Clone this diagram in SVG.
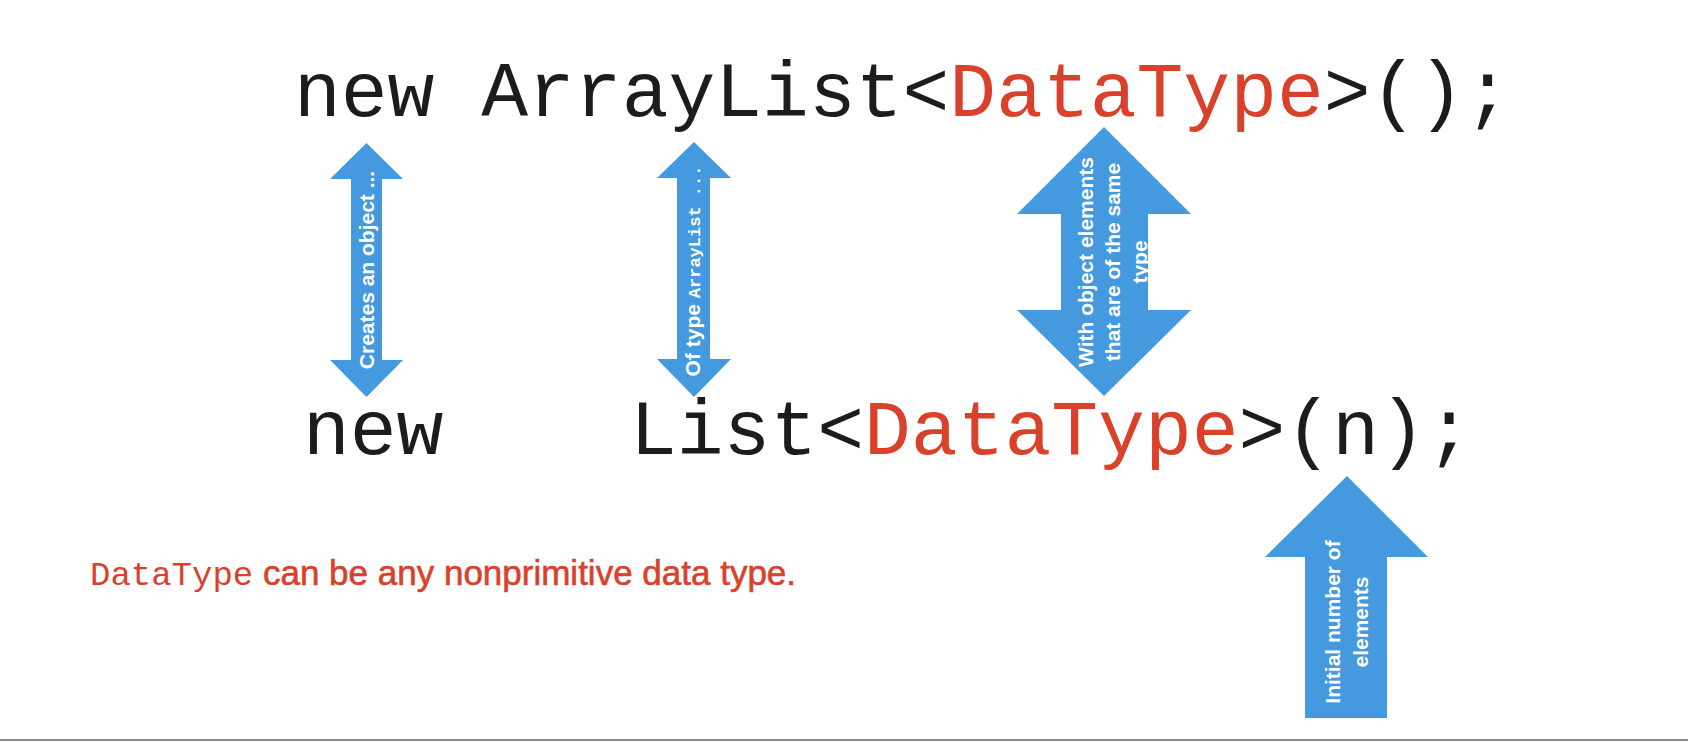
<svg xmlns="http://www.w3.org/2000/svg" width="1688" height="742" viewBox="0 0 1688 742">
<style>
.code{font-family:"Liberation Mono","Courier New",monospace;font-size:78px;fill:#1c1c1c}
.red{fill:#d9412b}
.arrow{fill:#4599df}
.lbl{font-family:"Liberation Sans",Arial,sans-serif;font-weight:bold;font-size:21px;fill:#ffffff;text-anchor:middle}
.mono{font-family:"Liberation Mono","Courier New",monospace;font-weight:bold;font-size:17px}
.note{font-family:"Liberation Sans",Arial,sans-serif;font-size:35px;fill:#d9412b}
.noteb{stroke:#d9412b;stroke-width:0.6px}
</style>
<rect x="0" y="0" width="1688" height="742" fill="#ffffff"/>
<g id="line-top">
<text class="code" x="294" y="116">new ArrayList&lt;<tspan class="red">DataType</tspan>&gt;();</text>
</g>
<g id="line-bottom">
<text class="code" x="303" y="454">new</text>
<text class="code" x="630" y="454">List&lt;<tspan class="red">DataType</tspan>&gt;(n);</text>
</g>
<g id="connectors">
<g id="arrow-creates">
<path class="arrow" d="M366.5,143 L403,179 L382,179 L382,360 L403,360 L366.5,397 L330,360 L351,360 L351,179 L330,179 Z"/>
<text class="lbl" transform="translate(374,270) rotate(-90)">Creates an object ...</text>
</g>
<g id="arrow-type">
<path class="arrow" d="M694,142 L731,178 L710,178 L710,359 L731,359 L694,397 L657,359 L677,359 L677,178 L657,178 Z"/>
<text class="lbl" transform="translate(700,271) rotate(-90)">Of type <tspan class="mono">ArrayList ...</tspan></text>
</g>
<g id="arrow-elements">
<path class="arrow" d="M1104,127 L1191,214 L1148,214 L1148,310 L1191,310 L1104,396 L1017,310 L1061,310 L1061,214 L1017,214 Z"/>
<text class="lbl" transform="translate(1093,262) rotate(-90)"><tspan x="0" y="0">With object elements</tspan><tspan x="0" y="27">that are of the same</tspan><tspan x="0" y="54">type</tspan></text>
</g>
<g id="arrow-initial">
<path class="arrow" d="M1347,476 L1428,557 L1387,557 L1387,718 L1305,718 L1305,557 L1265,557 Z"/>
<text class="lbl" transform="translate(1340,622) rotate(-90)"><tspan x="0" y="0">Initial number of</tspan><tspan x="0" y="28">elements</tspan></text>
</g>
</g>
<g id="note">
<text class="note" x="90" y="585"><tspan style="font-family:'Liberation Mono','Courier New',monospace;font-size:34px">DataType</tspan><tspan class="noteb"> can be any nonprimitive data type.</tspan></text>
</g>
<rect x="0" y="739" width="1688" height="2" fill="#8a8a8a"/>
</svg>
